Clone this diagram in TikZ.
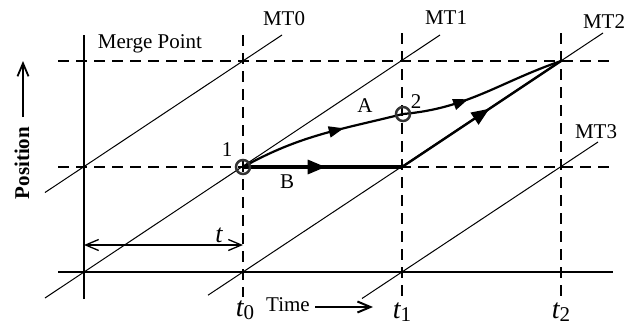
\documentclass[tikz,border=0pt]{standalone}
\usepackage{fontspec}
\setmainfont{Liberation Serif}
\usetikzlibrary{arrows.meta,decorations.markings}
\begin{document}
\begin{tikzpicture}[x=1pt,y=1pt,
  axisline/.style={line width=2.5pt},
  gridline/.style={line width=2.3pt, dash pattern=on 11pt off 7pt},
  mtline/.style={line width=1pt},
  lbl/.style={font=\fontsize{21}{24}\selectfont, inner sep=0pt},
  pathline/.style={line width=2.2pt},
  midarrow/.style n args={3}{postaction={decorate},decoration={markings,mark=at position #1 with {\arrow{Triangle[length=#2,width=#3]}}}},
  ptmark/.style={circle, draw=black!80, line width=2.5pt, minimum size=14pt, inner sep=0pt},
  openarrow/.style={-{Straight Barb[length=13pt,width=11pt]}},
  tsub/.style={font=\fontsize{21}{24}\selectfont, inner sep=0pt}
]
\useasboundingbox (0,0) rectangle (626,325);

% grid coordinates
\coordinate (P1) at (243,158);
\coordinate (P2) at (403,211);
\coordinate (Q) at (402,158);
\coordinate (E) at (561,264);

% solid axes
\coordinate (hxL) at (58,53); \coordinate (hxR) at (613,53);
\coordinate (vyB) at (84,26); \coordinate (vyT) at (84,290);
\draw[axisline] (hxL) -- (hxR);
\draw[axisline] (vyB) -- (vyT);

% dashed lines
\coordinate (dh1L) at (58,264); \coordinate (dh1R) at (615,264);
\coordinate (dh2L) at (58,158); \coordinate (dh2R) at (615,158);
\coordinate (dv0B) at (243,28); \coordinate (dv0T) at (243,290);
\coordinate (dv1B) at (402,28); \coordinate (dv1T) at (402,292);
\coordinate (dv2B) at (561,28); \coordinate (dv2T) at (561,292);
\draw[gridline] (dh1L) -- (dh1R);
\draw[gridline] (dh2L) -- (dh2R);
\draw[gridline] (dv0T) -- (dv0B);
\draw[gridline] (dv1T) -- (dv1B);
\draw[gridline] (dv2T) -- (dv2B);

% MT lines
\coordinate (m0a) at (45,132.5); \coordinate (m0b) at (282,290);
\coordinate (m1a) at (45,27); \coordinate (m1b) at (440,290);
\coordinate (m2a) at (208,29.8); \coordinate (m2b) at (603,292);
\coordinate (m3a) at (362,26.5); \coordinate (m3b) at (598,183);
\draw[mtline] (m0a) -- (m0b);
\draw[mtline] (m1a) -- (m1b);
\draw[mtline] (m2a) -- (m2b);
\draw[mtline] (m3a) -- (m3b);

% path A
\draw[pathline, midarrow={0.64}{15pt}{11pt}] (P1) to[out=29,in=194] (P2);
\draw[pathline, midarrow={0.40}{15pt}{11pt}] (P2) to[out=5,in=199] (E);
% path B
\draw[line width=3.2pt, midarrow={0.52}{18pt}{14pt}] (P1) -- (Q);
\draw[line width=2.4pt, midarrow={0.55}{18pt}{14pt}] (Q) -- (E);

% points
\node[ptmark] (c1) at (P1) {};
\node[ptmark] (c2) at (P2) {};

% t span arrow
\coordinate (ts1) at (84,80); \coordinate (ts2) at (243,80);
\draw[line width=1.3pt, {Straight Barb[length=13pt,width=11pt]}-{Straight Barb[length=13pt,width=11pt]}] (ts1) -- (ts2);
\node[font=\fontsize{26}{28}\selectfont\itshape, inner sep=0pt] (tlab) at (219,90) {t};

% labels
\node[lbl] (merge) at (150,281) {Merge Point};
\node[lbl] (mt0) at (284,306) {MT0};
\node[lbl] (mt1) at (446,307) {MT1};
\node[lbl] (mt2) at (604,303) {MT2};
\node[lbl] (mt3) at (596,193) {MT3};
\node[lbl] (n1) at (227,175) {1};
\node[lbl] (n2) at (416,223) {2};
\node[lbl] (la) at (365,219) {A};
\node[lbl] (lb) at (287,143) {B};

% time axis labels
\node[tsub] (t0) at (245,15) {{\fontsize{28}{30}\selectfont\itshape t}\raisebox{-3pt}{0}};
\node[tsub] (t1) at (402,13) {{\fontsize{28}{30}\selectfont\itshape t}\raisebox{-3pt}{1}};
\node[tsub] (t2) at (561,13) {{\fontsize{28}{30}\selectfont\itshape t}\raisebox{-3pt}{2}};
\node[lbl] (time) at (288,20) {Time};
\coordinate (tm1) at (315,18); \coordinate (tm2) at (373,18);
\draw[line width=2pt, openarrow] (tm1) -- (tm2);

% position label
\node[lbl, font=\fontsize{21}{24}\selectfont\bfseries, rotate=90] (pos) at (22,162) {Position};
\coordinate (pa1) at (23,208); \coordinate (pa2) at (23,264);
\draw[line width=1.8pt, openarrow] (pa1) -- (pa2);
\end{tikzpicture}
\end{document}
